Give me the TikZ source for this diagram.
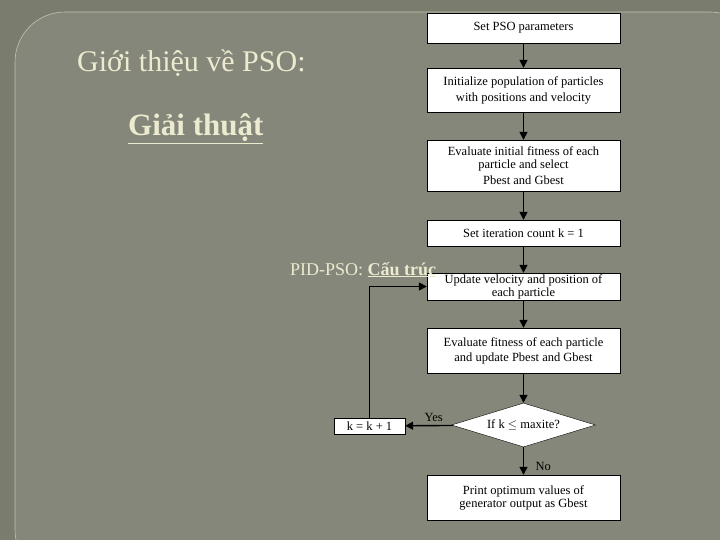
\documentclass[tikz,border=0pt]{standalone}
\usepackage{fontspec}
\setmainfont{Liberation Serif}
\usetikzlibrary{shapes.geometric,arrows.meta}
\definecolor{bgout}{HTML}{7A7C6E}
\definecolor{bgin}{HTML}{85877A}
\definecolor{cream}{HTML}{ECEBD0}
\begin{document}
\begin{tikzpicture}[x=1pt,y=-1pt,
  box/.style={draw=black,fill=white,minimum width=193pt,align=center,font=\fontsize{12.5}{13}\selectfont,inner sep=1pt},
  arr/.style={-{Triangle[length=8pt,width=8pt]},line width=1.4pt},
  ttl/.style={text=cream,anchor=base west}]
\useasboundingbox (0,0) rectangle (720,540);
\fill[bgout] (0,0) rectangle (720,540);
\draw[fill=bgin,draw=cream!60!bgin,line width=0.6pt,rounded corners=50pt] (15,12) rectangle (760,580);
\node[ttl,font=\fontsize{30}{34}\selectfont,inner sep=0pt] (t1) at (77,72) {Giới thiệu về PSO:};
\node[ttl,font=\fontsize{31}{34}\selectfont\bfseries,inner sep=0pt] (t2) at (128,136) {\underline{Giải thuật}};
\node[box,minimum height=30pt] (b1) at (523.5,28) {Set PSO parameters};
\node[box,minimum height=44pt] (b2) at (523.5,90) {Initialize population of particles\\[3pt] with positions and velocity};
\node[box,minimum height=51pt] (b3) at (523.5,165.5) {Evaluate initial fitness of each\\ particle and select\\[3pt] Pbest and Gbest};
\node[box,minimum height=26pt] (b4) at (523.5,233) {Set iteration count k = 1};
\node[box,minimum height=27pt,inner sep=0pt] (b5) at (523.5,286.5) {Update velocity and position of\\ each particle};
\node[box,minimum height=45pt] (b6) at (523.5,350.5) {Evaluate fitness of each particle\\[2pt] and update Pbest and Gbest};
\node[draw=black,fill=white,diamond,aspect=3.3,minimum width=144pt,minimum height=44pt,inner sep=0pt,font=\fontsize{12.5}{13}\selectfont] (d) at (523.5,425) {If k $\leq$ maxite?};
\node[box,minimum height=45pt] (b8) at (523.5,497.5) {Print optimum values of\\ generator output as Gbest};
\node[draw=black,fill=white,minimum width=71pt,minimum height=16pt,inner sep=0pt,font=\fontsize{12.5}{13}\selectfont] (kk) at (369.5,426) {k = k + 1};
\node[ttl,font=\fontsize{18}{20}\selectfont,inner sep=0pt] (t3) at (290,275) {PID-PSO: \textbf{\underline{Cấu trúc}}};
\draw[arr] (b1) -- (b2);
\draw[arr] (b2) -- (b3);
\draw[arr] (b3) -- (b4);
\draw[arr] (b4) -- (b5);
\draw[arr] (b5) -- (b6);
\draw[arr] (b6) -- (d);
\draw[arr] (d) -- (b8);
\draw[arr] (d) -- node[above,font=\fontsize{12.5}{13}\selectfont,pos=0.4] {Yes} (kk);
\draw[arr] (kk.north) |- (b5.west);
\node[font=\fontsize{12.5}{13}\selectfont,anchor=west] (no) at (532,466) {No};
\end{tikzpicture}
\end{document}
